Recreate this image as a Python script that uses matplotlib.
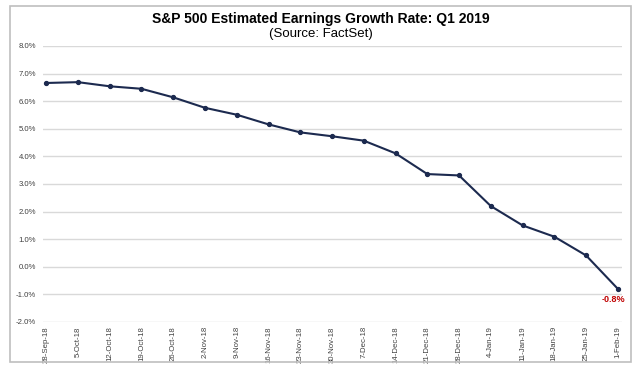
import matplotlib
matplotlib.use('Agg')
import matplotlib.pyplot as plt
from matplotlib.patches import Rectangle

plt.rcParams['font.family'] = ['Liberation Sans', 'DejaVu Sans']

dates = ['28-Sep-18', '5-Oct-18', '12-Oct-18', '19-Oct-18', '26-Oct-18',
         '2-Nov-18', '9-Nov-18', '16-Nov-18', '23-Nov-18', '30-Nov-18',
         '7-Dec-18', '14-Dec-18', '21-Dec-18', '28-Dec-18', '4-Jan-19',
         '11-Jan-19', '18-Jan-19', '25-Jan-19', '1-Feb-19']
growth = [6.66, 6.69, 6.54, 6.45, 6.14, 5.76, 5.51, 5.16, 4.87, 4.73,
          4.57, 4.11, 3.36, 3.31, 2.20, 1.50, 1.09, 0.41, -0.80]
yticks = [-2, -1, 0, 1, 2, 3, 4, 5, 6, 7, 8]

fig = plt.figure(figsize=(6.4, 3.73), dpi=100)
fig.patches.append(Rectangle((10/640, 1-362/373), 621/640, 356/373,
                             transform=fig.transFigure, fill=False,
                             edgecolor='#BFBFBF', linewidth=1.2))

ax = fig.add_axes([43/640, 1-322/373, 579/640, 276/373])
x = list(range(len(dates)))
ax.plot(x, growth, color='#1C2A4F', linewidth=1.5, marker='o', markersize=2.8)

ax.set_ylim(-2, 8)
ax.set_xlim(-0.1, 18.13)
ax.set_yticks(yticks)
ax.set_yticklabels([f'{v:.1f}%' for v in yticks])
ax.set_xticks(x)
ax.set_xticklabels(dates, rotation=90)
ax.tick_params(axis='both', length=0, labelsize=5.6, colors='#404040')
ax.tick_params(axis='y', pad=5)
ax.tick_params(axis='x', pad=3)
ax.grid(axis='y', color='#D9D9D9', linewidth=1)
ax.set_axisbelow(True)
for s in ax.spines.values():
    s.set_visible(False)

ax.annotate(f'{growth[-1]:.1f}%', (x[-1], growth[-1]), xytext=(-3, -8),
            textcoords='offset points', ha='center', va='center',
            color='#C00000', fontsize=6.5, fontweight='bold')

# title + source line, baselines placed so they don't collide
fig.text(0.502, 1-23/373, 'S&P 500 Estimated Earnings Growth Rate: Q1 2019',
         ha='center', va='baseline', fontsize=10, fontweight='bold')
fig.text(0.502, 1-37.5/373, '(Source: FactSet)', ha='center', va='baseline',
         fontsize=9.5)

fig.savefig('out.png', dpi=100)
